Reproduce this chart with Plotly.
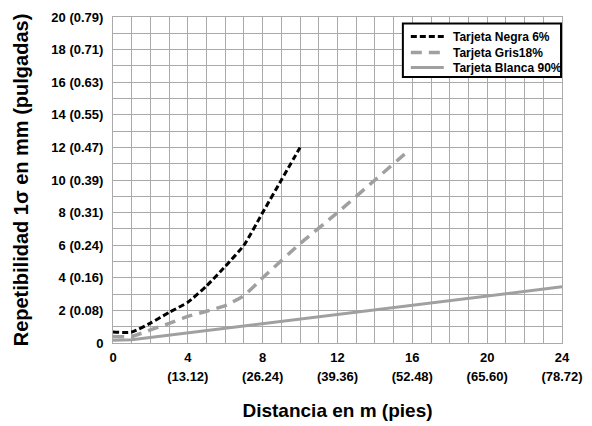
import plotly.graph_objects as go

# Data
negra_x = [0, 1, 2, 3, 4, 5, 6, 7, 8, 9, 10]
negra_y = [0.67, 0.67, 1.22, 1.88, 2.5, 3.5, 4.7, 6.0, 8.0, 10.0, 12.0]
gris_x = [0, 1, 2, 3, 4, 5, 6, 7, 8, 10, 12, 14, 15.8]
gris_y = [0.4, 0.4, 0.8, 1.2, 1.63, 1.95, 2.3, 2.9, 4.0, 6.1, 8.0, 10.0, 11.8]
blanca_x = [0, 1, 24]
blanca_y = [0.17, 0.2, 3.45]

series_names = ["Tarjeta Negra 6%", "Tarjeta Gris18%", "Tarjeta Blanca 90%"]

x_tickvals = [0, 4, 8, 12, 16, 20, 24]
x_ticktext_m = ["0", "4", "8", "12", "16", "20", "24"]
x_ticktext_ft = ["", "(13.12)", "(26.24)", "(39.36)", "(52.48)", "(65.60)", "(78.72)"]
y_tickvals = [0, 2, 4, 6, 8, 10, 12, 14, 16, 18, 20]
y_ticktext = ["0", "2 (0.08)", "4 (0.16)", "6 (0.24)", "8 (0.31)", "10 (0.39)",
              "12 (0.47)", "14 (0.55)", "16 (0.63)", "18 (0.71)", "20 (0.79)"]

FONT = "Liberation Sans"
GRID = "#aaaaaa"
styles = [
    dict(color="black", width=3, dash="6px,3px"),
    dict(color="#a0a0a0", width=3.5, dash="11px,7px"),
    dict(color="#a0a0a0", width=3),
]

fig = go.Figure()
fig.add_trace(go.Scatter(x=negra_x, y=negra_y, mode="lines", name=series_names[0],
                         line=dict(**styles[0], shape="spline", smoothing=0.5)))
fig.add_trace(go.Scatter(x=gris_x, y=gris_y, mode="lines", name=series_names[1],
                         line=dict(**styles[1], shape="spline", smoothing=0.4)))
fig.add_trace(go.Scatter(x=blanca_x, y=blanca_y, mode="lines", name=series_names[2],
                         line=dict(**styles[2])))
# invisible trace so the secondary (feet) x axis is drawn
fig.add_trace(go.Scatter(x=blanca_x, y=blanca_y, xaxis="x2", mode="lines", opacity=0,
                         line=dict(width=0), hoverinfo="skip", showlegend=False))

# Manual legend (compact, like the reference)
shapes = [dict(type="rect", xref="paper", yref="paper", x0=0.6456, x1=0.9978, y0=0.8163, y1=0.9798,
               line=dict(color="black", width=2), fillcolor="white", layer="above")]
annotations = []
entry_y = [0.940, 0.891, 0.845]
for name, st, ey in zip(series_names, styles, entry_y):
    shapes.append(dict(type="line", xref="paper", yref="paper", x0=0.6633, x1=0.7367, y0=ey, y1=ey,
                       line=dict(color=st["color"], width=st["width"], dash=st.get("dash", "solid")),
                       layer="above"))
    annotations.append(dict(xref="paper", yref="paper", x=0.7522, y=ey, xanchor="left", yanchor="middle",
                            text=name, showarrow=False,
                            font=dict(family=FONT, size=12, color="black", weight="bold")))

fig.update_layout(
    width=584, height=418,
    margin=dict(l=104.5, r=29.5, t=8.7, b=82.7),
    paper_bgcolor="white", plot_bgcolor="white",
    font=dict(family=FONT, size=13, color="black", weight="bold"),
    showlegend=False,
    shapes=shapes, annotations=annotations,
    xaxis=dict(
        range=[0, 24], tickmode="array", tickvals=x_tickvals, ticktext=x_ticktext_m,
        tickfont=dict(family=FONT, size=13, weight="bold"),
        showgrid=True, gridcolor=GRID, gridwidth=1,
        minor=dict(dtick=1, showgrid=True, gridcolor=GRID, gridwidth=1),
        showline=True, linecolor=GRID, linewidth=1, mirror=True, zeroline=False,
        ticks="", automargin=False, ticklabelstandoff=2,
    ),
    xaxis2=dict(overlaying="x", side="bottom", range=[0, 24], tickmode="array",
                tickvals=x_tickvals, ticktext=x_ticktext_ft,
                tickfont=dict(family=FONT, size=13, weight="bold", color="black"),
                showgrid=False, showline=False, zeroline=False, ticks="", automargin=False,
                ticklabelstandoff=24,
                title=dict(text="Distancia en m (pies)",
                           font=dict(family=FONT, size=19, weight="bold", color="black"), standoff=20)),
    yaxis=dict(
        range=[0, 20], tickmode="array", tickvals=y_tickvals, ticktext=y_ticktext,
        tickfont=dict(family=FONT, size=13, weight="bold"),
        showgrid=True, gridcolor=GRID, gridwidth=1,
        minor=dict(dtick=1, showgrid=True, gridcolor=GRID, gridwidth=1),
        showline=True, linecolor=GRID, linewidth=1, mirror=True, zeroline=False,
        ticks="", automargin=False, ticklabelstandoff=6,
        title=dict(text="Repetibilidad 1σ en mm (pulgadas)",
                   font=dict(family=FONT, size=20, weight="bold"), standoff=17),
    ),
)

fig.write_html("out.html")
